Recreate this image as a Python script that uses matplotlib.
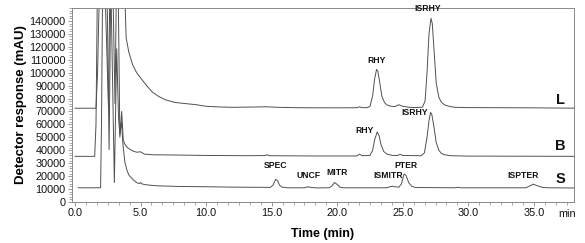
import matplotlib
matplotlib.use("Agg")
import matplotlib.pyplot as plt
from matplotlib.ticker import MultipleLocator
import matplotlib.transforms as mtransforms

plt.rcParams['font.family'] = ['Liberation Sans', 'DejaVu Sans']

# ---- data (time in min, response in mAU) ----
L_time = [0.0, 1.6, 1.72, 1.85, 2.3, 2.55, 2.65, 2.9, 3.05, 3.15, 3.8, 3.9, 4.1, 4.4, 4.7, 5.0,
          5.5, 5.9, 6.4, 6.9, 7.6, 8.5, 9.2, 10.0, 11.0, 12.0, 14.6, 15.5, 17.0, 20.0, 21.5, 21.7,
          21.9, 22.3, 22.5, 22.7, 22.85, 23.0, 23.1, 23.25, 23.4, 23.6, 23.8, 24.1, 24.4, 24.7,
          25.0, 25.5, 26.0, 26.5, 26.7, 26.85, 27.0, 27.15, 27.25, 27.4, 27.55, 27.75, 27.95,
          28.2, 28.6, 29.0, 30.0, 35.0, 38.5]
L_resp = [72500, 72500, 100000, 160000, 160000, 74000, 160000, 160000, 76000, 160000, 160000,
          127000, 116000, 106000, 100000, 96000, 89500, 85000, 81500, 79000, 77000, 76000, 75300,
          74000, 73500, 73200, 73600, 73200, 72900, 72800, 72900, 73600, 72900, 73000, 74000,
          82000, 95000, 102500, 101000, 92000, 82000, 77000, 75000, 74000, 73800, 75200, 74000,
          73200, 73000, 73300, 78000, 100000, 130000, 142000, 138000, 115000, 92000, 81000,
          77000, 75000, 73800, 73200, 73000, 72800, 72500]

B_time = [0.0, 1.5, 1.6, 1.7, 2.45, 2.6, 2.72, 3.3, 3.42, 3.56, 3.68, 3.8, 4.0, 4.4, 4.7, 5.0,
          5.3, 6.0, 8.0, 10.0, 13.0, 14.5, 14.65, 14.8, 18.0, 21.5, 21.7, 21.9, 22.5, 22.7,
          22.85, 23.05, 23.2, 23.35, 23.55, 23.8, 24.2, 24.6, 24.8, 25.0, 26.4, 26.65, 26.85,
          27.0, 27.12, 27.22, 27.38, 27.55, 27.75, 27.95, 28.2, 28.6, 30.0, 38.5]
B_resp = [35300, 35300, 60000, 160000, 160000, 40500, 160000, 160000, 50000, 70000, 48000,
          44700, 42000, 39500, 38500, 38800, 37000, 36500, 36300, 36000, 35800, 35900, 36500,
          35800, 35600, 35600, 37000, 35800, 36000, 40000, 48000, 54200, 51000, 44000, 39000,
          37000, 36000, 36000, 36800, 36000, 35800, 38000, 50000, 63000, 69300, 67500, 58000,
          46000, 40000, 37500, 36500, 35800, 35500, 35300]

S_time = [0.25, 1.95, 2.02, 2.1, 2.75, 3.0, 3.18, 3.32, 3.42, 3.55, 3.65, 3.8, 3.95, 4.1, 4.4,
          4.7, 4.9, 5.0, 5.1, 5.5, 6.3, 8.0, 10.0, 12.0, 14.9, 15.1, 15.3, 15.45, 15.6, 15.8,
          16.2, 17.5, 17.8, 18.0, 18.5, 19.4, 19.6, 19.8, 20.0, 20.2, 20.5, 23.8, 24.0, 24.2,
          24.4, 24.7, 24.9, 25.1, 25.25, 25.45, 25.7, 26.0, 29.0, 29.2, 29.4, 34.4, 34.7, 34.95,
          35.2, 35.6, 36.0, 38.5]
S_resp = [11000, 11000, 60000, 160000, 160000, 15000, 118500, 65000, 52000, 62000, 45000, 31000,
          25000, 21000, 17500, 15000, 14200, 15000, 14000, 13200, 12500, 12000, 11800, 11500,
          11300, 13000, 17500, 16500, 13000, 11500, 11000, 11000, 11800, 11200, 10900, 11000,
          12500, 15100, 13500, 11500, 11000, 11000, 11800, 12200, 11800, 11500, 14000, 21700,
          20500, 15000, 12000, 11200, 11000, 11400, 11000, 11000, 12500, 13800, 12800, 11400,
          11000, 10800]

peak_names = ["ISRHY", "RHY", "ISRHY", "RHY", "SPEC", "UNCF", "MITR", "ISMITR", "PTER", "ISPTER"]
peak_label_t = [26.9, 23.0, 25.9, 22.05, 15.3, 17.8, 19.96, 23.9, 25.25, 34.2]
peak_label_y = [146000, 106000, 66000, 52000, 24600, 16800, 19000, 16800, 24800, 16800]

trace_names = ["L", "B", "S"]
trace_name_y = [79000, 43000, 18000]

x_ticks = [0, 5, 10, 15, 20, 25, 30, 35]
y_ticks = list(range(0, 150000, 10000))

# ---- figure ----
fig = plt.figure(figsize=(5.85, 2.43), dpi=100)
ax = fig.add_axes([72 / 585, 1 - 202 / 243, (574 - 72) / 585, (202 - 8) / 243])

lc = '#505050'
for t, r in [(L_time, L_resp), (B_time, B_resp), (S_time, S_resp)]:
    ax.plot(t, r, color=lc, lw=0.7)

ax.set_xlim(-0.23, 38.06)
ax.set_ylim(0, 150000)

for name, t, y in zip(peak_names, peak_label_t, peak_label_y):
    ax.text(t, y, name, ha='center', va='bottom', fontsize=6.2, fontweight='bold', color='#111111')
for name, y in zip(trace_names, trace_name_y):
    ax.text(37.0, y, name, ha='center', va='center', fontsize=10.5, fontweight='bold', color='#111111')

ax.set_xticks(x_ticks)
ax.set_xticklabels([f"{v:.1f}" for v in x_ticks])
ax.xaxis.set_minor_locator(MultipleLocator(5 / 6))
ax.set_yticks(y_ticks)
ax.set_yticklabels([str(v) for v in y_ticks])
ax.yaxis.set_minor_locator(MultipleLocator(2000))

spc = '#888888'
for s in ax.spines.values():
    s.set_color(spc)
    s.set_linewidth(0.7)
ax.tick_params(axis='both', which='major', length=3, width=0.6, color=spc, labelsize=7.8, pad=1.5,
               labelcolor='#111111')
ax.tick_params(axis='both', which='minor', length=2, width=0.5, color=spc)

trans = mtransforms.blended_transform_factory(ax.transData, ax.transAxes)
ax.text(37.5, -0.035, "min", transform=trans, ha='center', va='top', fontsize=7.8, color='#111111')

ax.set_xlabel("Time (min)", fontsize=9, fontweight='bold', labelpad=7)
ax.set_ylabel("Detector response (mAU)", fontsize=9.5, fontweight='bold', labelpad=2)

fig.savefig("out.png", dpi=100)
